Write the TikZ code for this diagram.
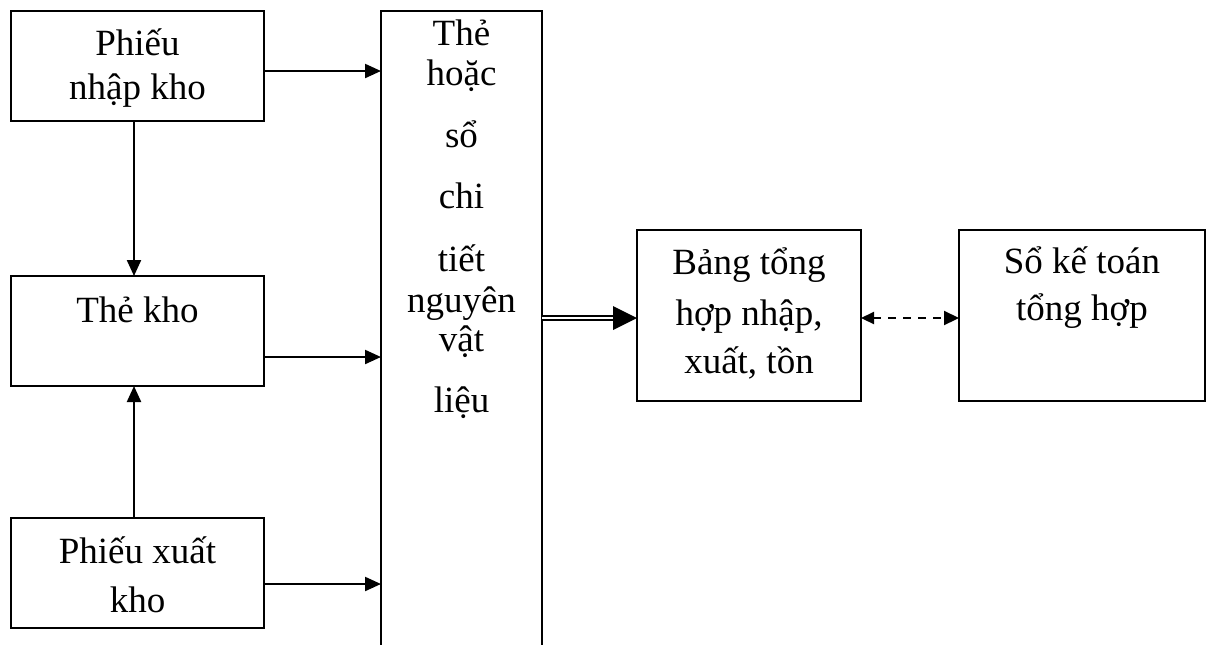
\documentclass[tikz,border=0pt]{standalone}
\usepackage{fontspec}
\setmainfont{Liberation Serif}
\usetikzlibrary{arrows.meta}
\begin{document}
\begin{tikzpicture}[x=0.5pt,y=-0.5pt,
   box/.style={draw,line width=1.1pt,inner sep=0pt,outer sep=0pt},
   lbl/.style={anchor=base,inner sep=0pt,font=\fontsize{18.5}{20}\selectfont},
   arr/.style={line width=1.1pt,-{Triangle[length=8pt,width=7pt]}},
   dbl/.style={double,line width=0.7pt,double distance=1.3pt},
   dsh/.style={line width=1.1pt,dash pattern=on 4pt off 3.5pt,{Triangle[length=6.5pt,width=6pt]}-{Triangle[length=7.5pt,width=7pt]}}]
   \useasboundingbox (0,0) rectangle (1207,644);
   \clip (0,0) rectangle (1207,644);
   % boxes
   \node[box,minimum width=126.5pt,minimum height=55pt] (pnk) at (137.5,66) {};
   \node[box,minimum width=126.5pt,minimum height=55pt] (tkho) at (137.5,331) {};
   \node[box,minimum width=126.5pt,minimum height=55pt] (pxk) at (137.5,573) {};
   \node[box,minimum width=80.5pt,minimum height=329.5pt] (sct) at (461.5,340.5) {};
   \node[box,minimum width=112pt,minimum height=85.5pt] (bang) at (749,315.5) {};
   \node[box,minimum width=123pt,minimum height=85.5pt] (sokt) at (1082,315.5) {};
   % texts
   \node[lbl] (pnk-1) at (137.5,55) {Phiếu};
   \node[lbl] (pnk-2) at (137.5,99) {nhập kho};
   \node[lbl] (tkho-1) at (137.5,322) {Thẻ kho};
   \node[lbl] (pxk-1) at (137.5,563) {Phiếu xuất};
   \node[lbl] (pxk-2) at (137.5,612) {kho};
   \foreach \y/\w [count=\i] in {45/Thẻ,85/hoặc,147/sổ,208/chi,271/tiết,312/nguyên,351/vật,412/liệu}
      \node[lbl] (sct-\i) at (461.5,\y) {\w};
   \node[lbl] (bang-1) at (749,274) {Bảng tổng};
   \node[lbl] (bang-2) at (749,325) {hợp nhập,};
   \node[lbl] (bang-3) at (749,373) {xuất, tồn};
   \node[lbl] (sokt-1) at (1082,273) {Sổ kế toán};
   \node[lbl] (sokt-2) at (1082,320) {tổng hợp};
   % arrows
   \draw[arr] ([yshift=-2.5pt]pnk.east) -- ([yshift=-2.5pt]pnk.east -| sct.west);
   \draw[arr] ([yshift=-13pt]tkho.east) -- ([yshift=-13pt]tkho.east -| sct.west);
   \draw[arr] ([yshift=-5.5pt]pxk.east) -- ([yshift=-5.5pt]pxk.east -| sct.west);
   \draw[arr] ([xshift=-1.75pt]pnk.south) -- ([xshift=-1.75pt]tkho.north);
   \draw[arr] ([xshift=-1.75pt]pxk.north) -- ([xshift=-1.75pt]tkho.south);
   \draw[dbl] ([yshift=-1.25pt]bang.west -| sct.east) -- ([xshift=-10pt,yshift=-1.25pt]bang.west);
   \fill ([yshift=-1.25pt]bang.west) -- ++(-24,-12) -- ++(0,24) -- cycle;
   \draw[dsh] ([yshift=-1.25pt]bang.east) -- ([yshift=-1.25pt]sokt.west);
\end{tikzpicture}
\end{document}
